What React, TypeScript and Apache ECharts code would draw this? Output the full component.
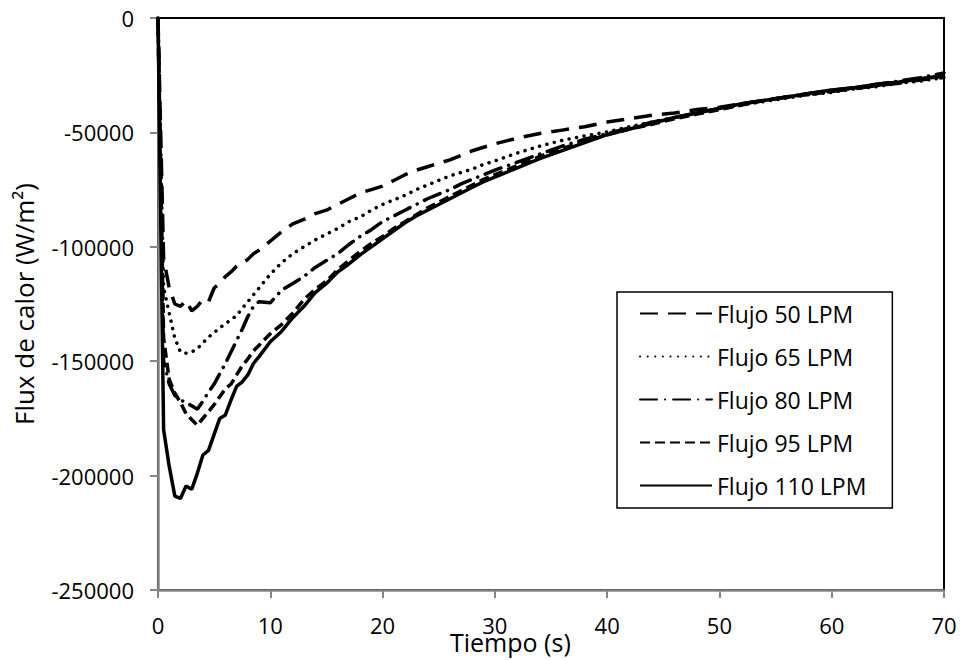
import React, { useEffect, useRef } from "react";
import * as echarts from "echarts";

const times = [0, 0.5, 1, 1.5, 2, 2.5, 3, 3.5, 4, 4.5, 5, 5.5, 6, 6.5, 7, 7.5, 8, 8.5, 9, 10, 11, 12, 13, 14, 15, 16, 17, 18, 19, 20, 21, 22, 23, 24, 25, 26, 27, 28, 29, 30, 32, 34, 36, 38, 40, 42, 44, 46, 48, 50, 52, 54, 56, 58, 60, 62, 64, 66, 68, 70];

const flujo50 = [0, -105000, -118000, -125000, -126000, -123500, -128000, -126000, -123000, -124000, -118000, -116000, -113000, -111000, -108500, -107000, -105500, -103000, -101500, -97500, -93500, -90000, -88000, -85500, -84000, -81500, -79000, -76500, -75000, -73500, -71000, -68500, -66500, -65000, -63500, -62000, -60000, -58000, -56500, -55000, -52500, -50500, -49000, -47500, -45500, -44000, -42500, -41500, -40000, -39000, -37500, -36000, -34500, -33000, -32000, -31000, -29500, -28500, -27000, -26000];

const flujo65 = [0, -118000, -129000, -140000, -146000, -146500, -146000, -144500, -142000, -139500, -137500, -135500, -133500, -132000, -130000, -127000, -124000, -121000, -118000, -112000, -107000, -103000, -100000, -97000, -94500, -92000, -89000, -87000, -84000, -81500, -79500, -77500, -75000, -73000, -71000, -69000, -67500, -66000, -64000, -62500, -59000, -56000, -53500, -51500, -49800, -47500, -45500, -43500, -41500, -39500, -38000, -36500, -35000, -33500, -32500, -31000, -30000, -28500, -27500, -26000];

const flujo80 = [0, -150000, -160000, -165000, -167000, -168000, -169500, -171000, -167500, -163500, -160000, -155500, -151000, -146000, -141000, -136000, -130500, -126000, -124000, -124500, -119000, -116000, -113000, -109000, -106000, -103000, -99000, -95500, -92500, -89000, -86500, -84000, -81500, -79000, -77000, -75000, -72500, -70500, -68500, -66500, -63000, -59500, -56000, -53000, -50500, -48000, -45500, -43500, -41500, -39500, -37500, -36000, -34500, -33000, -31500, -30500, -29000, -27500, -26000, -24000];

const flujo95 = [0, -140000, -158000, -164000, -168000, -173000, -175500, -178000, -175000, -172000, -169000, -165500, -162000, -160000, -156000, -152000, -149000, -145500, -143000, -138000, -134000, -129000, -123000, -118500, -115000, -110000, -106000, -102000, -98500, -95500, -92000, -89000, -86000, -83000, -80500, -78000, -75500, -73000, -70500, -68500, -64500, -60500, -57000, -54000, -51000, -48500, -46500, -44000, -42000, -40000, -38000, -36000, -34500, -33500, -32000, -30500, -29500, -28000, -26500, -25500];

const flujo110 = [0, -180000, -196000, -209000, -210000, -204500, -206000, -199000, -191000, -189000, -182000, -175000, -173500, -167000, -161000, -159000, -156000, -151000, -148000, -141500, -137000, -131000, -126000, -120000, -116000, -111000, -107500, -103500, -100000, -96500, -93000, -89500, -86500, -84000, -81500, -79000, -76500, -74000, -71500, -69500, -65500, -61500, -58000, -54500, -51000, -48500, -46000, -43500, -41500, -39500, -37500, -36000, -34500, -33000, -31500, -30500, -29000, -28000, -26500, -25000];

const seriesNames = ["Flujo 50 LPM", "Flujo 65 LPM", "Flujo 80 LPM", "Flujo 95 LPM", "Flujo 110 LPM"];
const seriesValues = [flujo50, flujo65, flujo80, flujo95, flujo110];

const xTitle = "Tiempo (s)";
const yTitle = "Flux de calor (W/m²)";

const FONT = "'Open Sans', 'Noto Sans', sans-serif";

const dashes: any[] = [
  [18, 10],
  [0.1, 7.5],
  [17, 8, 0.1, 8],
  [10, 5],
  "solid",
];

export default function App() {
  const ref = useRef<HTMLDivElement>(null);
  useEffect(() => {
    if (!ref.current) return;
    const chart = echarts.init(ref.current, undefined, { renderer: "svg" });
    const series = seriesNames.map((name, i) => ({
      name,
      type: "line",
      data: times.map((t, j) => [t, seriesValues[i][j]]),
      symbol: "none",
      smooth: false,
      lineStyle: {
        color: "#000",
        width: 3.5,
        type: dashes[i],
        cap: i === 1 || i === 2 ? "round" : "butt",
      },
      itemStyle: { color: "#000" },
    }));
    chart.setOption({
      animation: false,
      backgroundColor: "#fff",
      grid: {
        left: 158,
        top: 18,
        width: 786,
        height: 572,
        show: true,
        borderColor: "#000",
        borderWidth: 2,
        backgroundColor: "transparent",
      },
      xAxis: {
        type: "value",
        min: 0,
        max: 70,
        interval: 10,
        position: "bottom",
        axisLine: { show: true, onZero: false, lineStyle: { color: "#868686", width: 2.5 } },
        axisTick: { show: true, length: 8, lineStyle: { color: "#868686", width: 2 } },
        axisLabel: { margin: 24, color: "#000", fontSize: 22, fontFamily: FONT },
        splitLine: { show: false },
      },
      yAxis: {
        type: "value",
        min: -250000,
        max: 0,
        interval: 50000,
        name: yTitle,
        nameLocation: "middle",
        nameRotate: 90,
        nameGap: 121,
        nameTextStyle: { color: "#000", fontSize: 26, fontFamily: FONT },
        axisLine: { show: true, onZero: false, lineStyle: { color: "#868686", width: 2.5 } },
        axisTick: { show: true, length: 8, lineStyle: { color: "#868686", width: 2 } },
        axisLabel: {
          margin: 24,
          color: "#000",
          fontSize: 22,
          fontFamily: FONT,
          formatter: (v: number) => String(v),
        },
        splitLine: { show: false },
      },
      legend: {
        orient: "vertical",
        left: 617,
        top: 292,
        padding: [10, 26, 11, 22],
        itemWidth: 72,
        itemHeight: 14,
        itemGap: 20,
        borderColor: "#000",
        borderWidth: 1.5,
        backgroundColor: "#fff",
        itemStyle: { opacity: 0 },
        textStyle: { color: "#000", fontSize: 23, lineHeight: 23, fontFamily: FONT },
        data: seriesNames,
      },
      graphic: [
        {
          type: "text",
          left: 450,
          top: 629,
          style: { text: xTitle, fill: "#000", font: `25px ${FONT}` },
        },
      ],
      series,
    });
    return () => chart.dispose();
  }, []);
  return (
    <div
      ref={ref}
      style={{ position: "absolute", left: 0, top: 0, width: 961, height: 660 }}
    />
  );
}
